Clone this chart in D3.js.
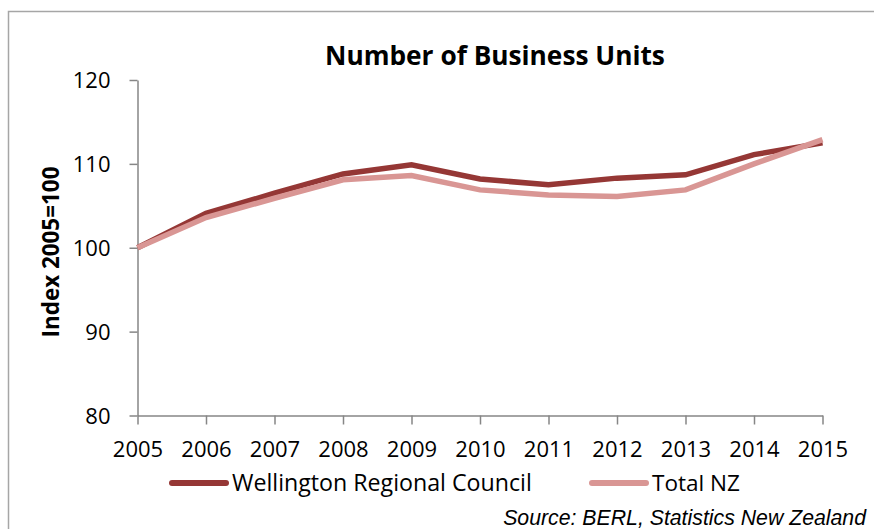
<!DOCTYPE html>
<html><head><meta charset="utf-8">
<script src="https://cdn.jsdelivr.net/npm/d3@7"></script>
<style>body{margin:0;background:#fff}svg{display:block}</style>
</head><body>
<svg id="c" width="874" height="529"></svg>
<script>
const years = [2005,2006,2007,2008,2009,2010,2011,2012,2013,2014,2015];
const wellington = [100.0,104.1,106.5,108.8,109.9,108.2,107.5,108.3,108.7,111.1,112.5];
const totalNZ = [100.0,103.6,105.9,108.1,108.6,106.9,106.3,106.1,106.9,110.0,112.9];
const seriesNames = ["Wellington Regional Council","Total NZ"];
const seriesColors = ["#953735","#D99694"];
const yTicks = [80,90,100,110,120];
const title = "Number of Business Units";
const yTitle = "Index 2005=100";
const source = "Source: BERL, Statistics New Zealand";

const svg = d3.select("#c");
const font = "'Open Sans', Carlito, Calibri, sans-serif";
const axisColor = "#868686";

function fit(sel, w){
  const n = sel.node();
  const cur = parseFloat(sel.attr("font-size"));
  const m = n.getComputedTextLength();
  sel.attr("font-size", (cur * w / m).toFixed(2));
  return sel;
}

// outer frame
svg.append("rect").attr("x",8.5).attr("y",11.5).attr("width",900).attr("height",560)
  .attr("fill","#fff").attr("stroke","#a6a6a6").attr("stroke-width",1.5);

const x = d3.scalePoint().domain(years).range([137.5, 822.5]);
const y = d3.scaleLinear().domain([80,120]).range([415.5, 80]);

// axes
const xAxis = svg.append("g").attr("transform","translate(0,415.5)")
  .call(d3.axisBottom(x).tickSize(9).tickPadding(8).tickSizeOuter(0));
const yAxis = svg.append("g").attr("transform","translate(137.5,0)")
  .call(d3.axisLeft(y).tickValues(yTicks).tickSize(8).tickPadding(19).tickSizeOuter(0));
[xAxis,yAxis].forEach(g=>{
  g.select(".domain").attr("stroke",axisColor).attr("stroke-width",1.5);
  g.selectAll(".tick line").attr("stroke",axisColor).attr("stroke-width",1.5);
  g.selectAll(".tick text").attr("fill","#000").attr("font-family",font).attr("font-size",22);
});
xAxis.selectAll(".tick text").attr("dy","1.1em");
yAxis.selectAll(".tick text").attr("dx","0").attr("dy","0.36em");

// lines
const line = d3.line().x((d,i)=>x(years[i])).y(d=>y(d));
[wellington,totalNZ].forEach((s,k)=>{
  svg.append("path").datum(s).attr("d",line).attr("fill","none")
    .attr("stroke",seriesColors[k]).attr("stroke-width",5.5)
    .attr("stroke-linejoin","miter").attr("stroke-linecap","butt");
});

// title
fit(svg.append("text").attr("x",495).attr("y",65).attr("text-anchor","middle")
  .attr("font-family",font).attr("font-weight","bold").attr("font-size",24)
  .attr("fill","#000").text(title), 340);

// y title
fit(svg.append("text").attr("transform","translate(59,252) rotate(-90)").attr("text-anchor","middle")
  .attr("font-family",font).attr("font-weight","bold").attr("font-size",20)
  .attr("fill","#000").text(yTitle), 171);

// legend
const legX = [172, 592], legTextW = [300, 88];
seriesNames.forEach((nm,k)=>{
  svg.append("line").attr("x1",legX[k]).attr("x2",legX[k]+54).attr("y1",483).attr("y2",483)
    .attr("stroke",seriesColors[k]).attr("stroke-width",6).attr("stroke-linecap","round");
  fit(svg.append("text").attr("x",legX[k]+60).attr("y",491).attr("font-family",font)
    .attr("font-size",21).attr("fill","#000").text(nm), legTextW[k]);
});

// source
fit(svg.append("text").attr("x",866).attr("y",525).attr("text-anchor","end")
  .attr("font-family","'Liberation Sans', Arial, sans-serif").attr("font-style","italic")
  .attr("font-size",18).attr("fill","#000").text(source), 363);
</script>
</body></html>
